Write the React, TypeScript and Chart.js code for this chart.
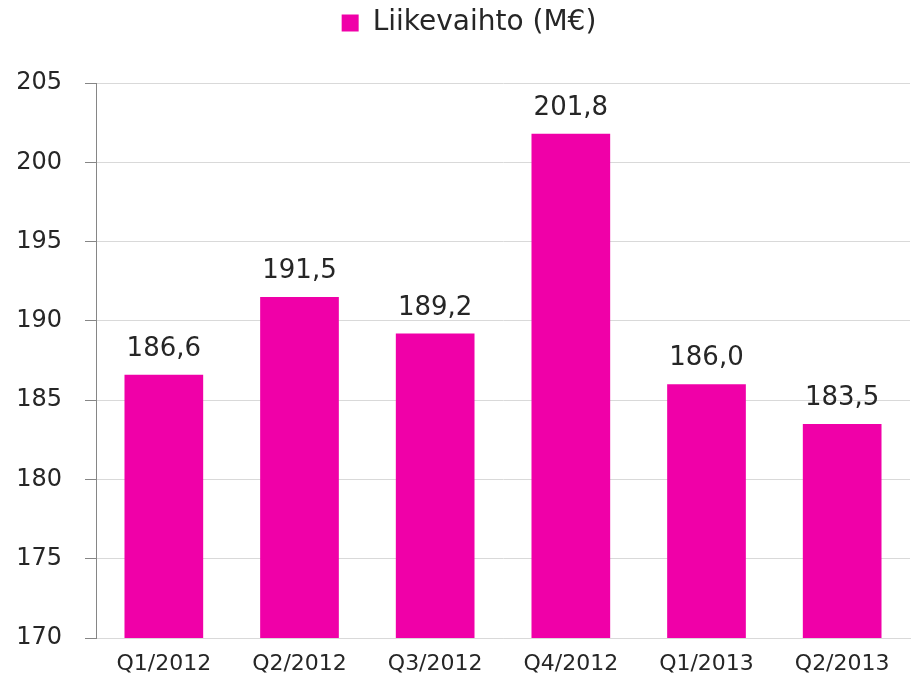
import React, { useEffect, useRef } from 'react';
import { Chart, registerables } from 'chart.js';

Chart.register(...registerables);

const categories = ['Q1/2012', 'Q2/2012', 'Q3/2012', 'Q4/2012', 'Q1/2013', 'Q2/2013'];
const revenue = [186.6, 191.5, 189.2, 201.8, 186.0, 183.5];
const seriesLabel = 'Liikevaihto (M€)';
const yMin = 170;
const yMax = 205;
const yStep = 5;

const PINK = '#F000A8';
const TEXT = '#262626';
const FONT = "'DejaVu Sans', sans-serif";

const valueLabels = {
  id: 'valueLabels',
  afterDatasetsDraw(chart: any) {
    const ctx = chart.ctx;
    const meta = chart.getDatasetMeta(0);
    const data = chart.data.datasets[0].data as number[];
    ctx.save();
    ctx.font = `26px ${FONT}`;
    ctx.fillStyle = TEXT;
    ctx.textAlign = 'center';
    ctx.textBaseline = 'alphabetic';
    meta.data.forEach((bar: any, i: number) => {
      ctx.fillText(Number(data[i]).toFixed(1).replace('.', ','), bar.x, bar.y - 19);
    });
    ctx.restore();
  },
};

const legendSpacer = {
  id: 'legendSpacer',
  beforeLayout(chart: any) {
    const lg = chart.legend;
    if (lg && !lg.__spaced) {
      const origFit = lg.fit;
      lg.fit = function () {
        origFit.call(this);
        this.height += 36;
      };
      const origDraw = lg.draw;
      lg.draw = function () {
        const ctx = this.ctx;
        ctx.save();
        ctx.translate(14, 0);
        origDraw.call(this);
        ctx.restore();
      };
      lg.__spaced = true;
    }
  },
};

export default function App() {
  const ref = useRef<HTMLCanvasElement>(null);
  useEffect(() => {
    document.body.style.margin = '0';
    const chart = new Chart(ref.current as HTMLCanvasElement, {
      type: 'bar',
      data: {
        labels: categories,
        datasets: [
          {
            label: seriesLabel,
            data: revenue,
            backgroundColor: PINK,
            borderWidth: 0,
            categoryPercentage: 1,
            barPercentage: 0.58,
          },
        ],
      },
      options: {
        responsive: false,
        animation: false,
        layout: { padding: { left: 0, right: 3, top: 0, bottom: 0 } },
        plugins: {
          tooltip: { enabled: false },
          legend: {
            display: true,
            position: 'top',
            labels: {
              boxWidth: 17,
              boxHeight: 17,
              padding: 9,
              color: TEXT,
              font: { family: FONT, size: 28 },
            },
          },
        },
        scales: {
          x: {
            grid: { display: false, drawTicks: false },
            border: { display: true, color: '#d9d9d9', width: 1 },
            ticks: { color: TEXT, font: { family: FONT, size: 22 }, padding: 13, maxRotation: 0 },
            afterFit: (s: any) => {
              s.height = 39;
            },
          },
          y: {
            min: yMin,
            max: yMax,
            ticks: { stepSize: yStep, color: TEXT, font: { family: FONT, size: 24 }, padding: 23 },
            grid: { color: '#d9d9d9', tickColor: '#868686', tickLength: 11, drawTicks: true },
            border: { display: true, color: '#868686', width: 1 },
            afterFit: (s: any) => {
              s.width = 96;
            },
          },
        },
      },
      plugins: [valueLabels, legendSpacer],
    });
    return () => chart.destroy();
  }, []);
  return (
    <div style={{ width: 913, height: 677 }}>
      <canvas ref={ref} width={913} height={677} />
    </div>
  );
}
